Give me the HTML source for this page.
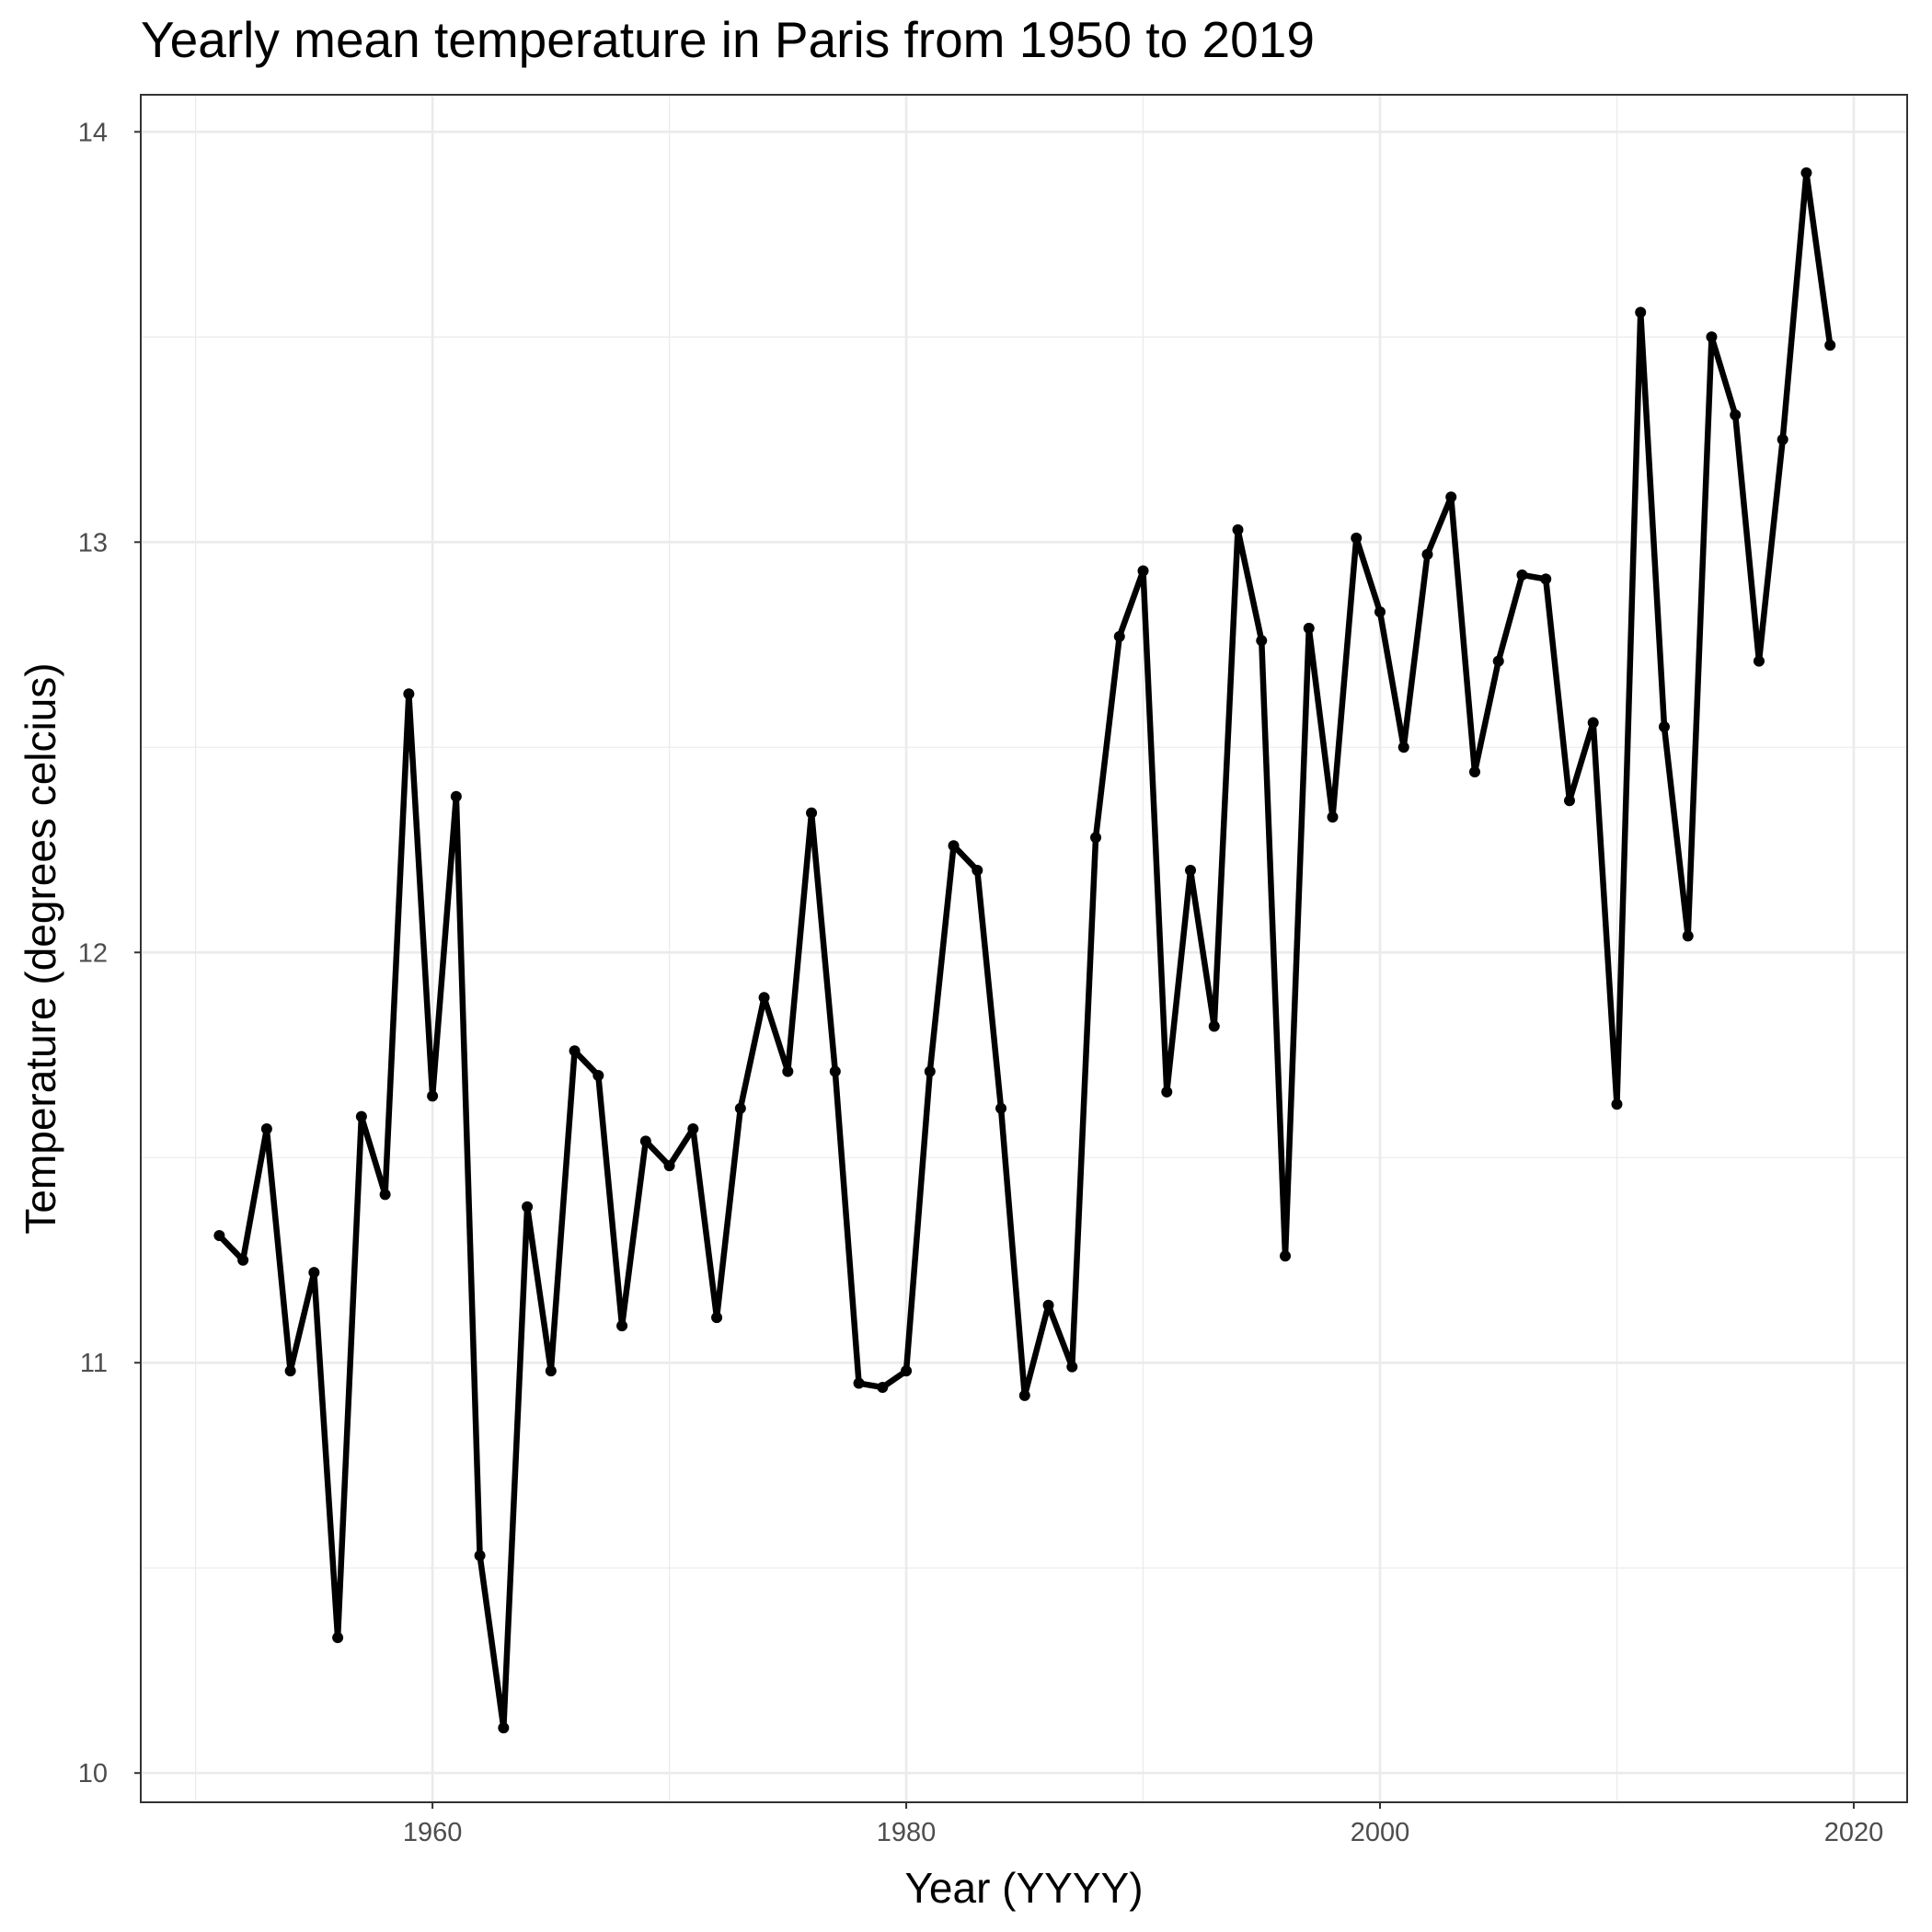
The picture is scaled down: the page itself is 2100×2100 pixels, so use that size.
<!DOCTYPE html>
<html><head><meta charset="utf-8"><style>html,body{margin:0;padding:0;background:#fff}svg{display:block}</style></head>
<body>
<svg id="chart" width="2100" height="2100" viewBox="0 0 2100 2100" xmlns="http://www.w3.org/2000/svg" font-family="Liberation Sans, sans-serif">
<rect width="2100" height="2100" fill="#fff"/>
<text x="153" y="62" font-size="55" fill="#000">Yearly mean temperature in Paris from 1950 to 2019</text>
<g id="grid"></g>
<g id="series"></g>
<rect x="153" y="103" width="1920" height="1856" fill="none" stroke="#333" stroke-width="2"/>
<g id="axes"></g>
<text x="1113" y="2068" font-size="46" text-anchor="middle" fill="#000">Year (YYYY)</text>
<text transform="translate(60,1031) rotate(-90)" font-size="46" text-anchor="middle" fill="#000">Temperature (degrees celcius)</text>
</svg>
<script>
const years = [];
for (let y = 1951; y <= 2019; y++) years.push(y);
const temps = [11.31,11.25,11.57,10.98,11.22,10.33,11.60,11.41,12.63,11.65,
12.38,10.53,10.11,11.38,10.98,11.76,11.70,11.09,11.54,11.48,
11.57,11.11,11.62,11.89,11.71,12.34,11.71,10.95,10.94,10.98,
11.71,12.26,12.20,11.62,10.92,11.14,10.99,12.28,12.77,12.93,
11.66,12.20,11.82,13.03,12.76,11.26,12.79,12.33,13.01,12.83,
12.50,12.97,13.11,12.44,12.71,12.92,12.91,12.37,12.56,11.63,
13.56,12.55,12.04,13.50,13.31,12.71,13.25,13.90,13.48];
const xTicks = [1960,1980,2000,2020];
const xMinor = [1950,1970,1990,2010];
const yTicks = [10,11,12,13,14];
const yMinor = [10.5,11.5,12.5,13.5];

const NS = "http://www.w3.org/2000/svg";
const X0 = 153, X1 = 2073, Y0 = 103, Y1 = 1959;
function xs(v){ return 470.1 + (v - 1960) * (1500 - 470.1) / 40; }
function ys(v){ return 1927.2 - (v - 10) * (1927.2 - 143.3) / 4; }
function mk(tag, attrs, parent){ const e = document.createElementNS(NS, tag); for (const k in attrs) e.setAttribute(k, attrs[k]); parent.appendChild(e); return e; }
const grid = document.getElementById('grid'), series = document.getElementById('series'), axes = document.getElementById('axes');

xMinor.forEach(v => { const l = mk('line', {x1: xs(v), x2: xs(v), y1: Y0, y2: Y1, stroke: '#ebebeb', 'stroke-width': 1.3}, grid);
    });
yMinor.forEach(v => { const l = mk('line', {x1: X0, x2: X1, y1: ys(v), y2: ys(v), stroke: '#ebebeb', 'stroke-width': 1.3}, grid);
    });
xTicks.forEach(v => { const l = mk('line', {x1: xs(v), x2: xs(v), y1: Y0, y2: Y1, stroke: '#ebebeb', 'stroke-width': 2.7}, grid);
   
  const t = mk('line', {x1: xs(v), x2: xs(v), y1: Y1, y2: Y1 + 7, stroke: '#333', 'stroke-width': 2}, axes);
   
  const tx = mk('text', {x: xs(v), y: Y1 + 42, 'font-size': 29, 'text-anchor': 'middle', fill: '#4d4d4d'}, axes);
  tx.textContent = v;   });
yTicks.forEach(v => { const l = mk('line', {x1: X0, x2: X1, y1: ys(v), y2: ys(v), stroke: '#ebebeb', 'stroke-width': 2.7}, grid);
   
  const t = mk('line', {x1: X0 - 7, x2: X0, y1: ys(v), y2: ys(v), stroke: '#333', 'stroke-width': 2}, axes);
   
  const tx = mk('text', {x: 117, y: ys(v) + 10, 'font-size': 29, 'text-anchor': 'end', fill: '#4d4d4d'}, axes);
  tx.textContent = v;   });

const pts = years.map((y, i) => xs(y) + ',' + ys(temps[i])).join(' ');
const pl = mk('polyline', {points: pts, fill: 'none', stroke: '#000', 'stroke-width': 6.5, 'stroke-linejoin': 'round'}, series);
 
years.forEach((y, i) => { const c = mk('circle', {cx: xs(y), cy: ys(temps[i]), r: 6, fill: '#000'}, series);
    });
</script>
</body></html>
